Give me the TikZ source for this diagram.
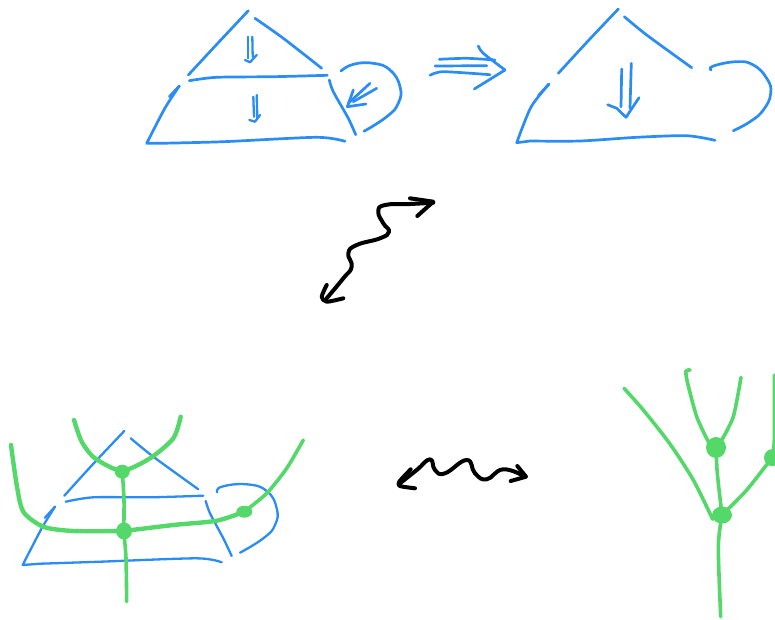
\documentclass[tikz,border=0pt]{standalone}
\usetikzlibrary{shapes.geometric}
\definecolor{skblue}{HTML}{2A8CF5}
\definecolor{skgreen}{HTML}{55D86A}
\tikzset{
 bl/.style={draw=skblue,line width=2.7pt,line cap=round,line join=round},
 blthin/.style={draw=skblue,line width=2.3pt,line cap=round,line join=round},
 gr/.style={draw=skgreen,line width=4.4pt,line cap=round,line join=round},
 grthin/.style={draw=skgreen,line width=3.6pt,line cap=round,line join=round},
 bk/.style={draw=black,line width=4pt,line cap=round,line join=round},
 dot/.style={ellipse,fill=skgreen,inner sep=0pt},
}
\newcommand{\sk}[2]{\draw[#1] plot[smooth,tension=0.45] coordinates {#2};}
\newcommand{\skr}[2]{\draw[#1] plot[smooth,tension=0.8] coordinates {#2};}
\begin{document}
\begin{tikzpicture}[x=1pt,y=-1pt]
\useasboundingbox (0,0) rectangle (775,619);
% --- top left
\sk{bl}{(248.3,10.7) (218,43) (188.3,75)}
\sk{bl}{(255,18.3) (283.3,38.3) (321.7,68.3)}
\sk{bl}{(189.3,80.7) (216.7,77.3) (273,76.7) (327.3,75.3)}
\sk{bl}{(169.3,96.7) (179.3,86)}
\draw[bl] plot[smooth,tension=0.45] coordinates {(179.3,86) (165,108) (146.7,143.3)} -- (160,143.3) plot[smooth,tension=0.45] coordinates {(160,143.3) (223.3,141.7) (316.7,137.3) (345,141.3)};
\sk{bl}{(329.3,80) (333.3,91.7) (348.3,118.3) (355.7,134.7)}
\skr{bl}{(341,71) (353.3,64.3) (373.3,63.3) (390,70) (400,86.7) (398.3,103.3) (386.7,116.7) (364,131.3)}
\sk{bl}{(370,83.3) (348.3,103.3)}
\sk{bl}{(376.7,88.3) (353.3,101.7)}
\draw[bl] (353.3,90) -- (347.3,106.7) -- (366,104);
\sk{blthin}{(248.3,36.7) (248.3,58.3)}
\sk{blthin}{(252.3,36.7) (252.7,56.7)}
\draw[blthin] (245,60) -- (250,62.3) -- (256.7,55);
\sk{blthin}{(256.7,95) (257.3,118.3)}
\sk{blthin}{(253.3,96.7) (254,116.7)}
\draw[blthin] (249.3,120) -- (255,121.7) -- (260,115);
% --- implication arrow
\sk{bl}{(439.3,59.3) (466.7,58.3) (495,60)}
\sk{bl}{(435,66) (486.7,65.7)}
\sk{bl}{(430,75.3) (443.3,71.7) (490,74.7)}
\sk{bl}{(478.3,46) (483.3,53.3) (505,70)}
\draw[bl] (505,70) -- (474.3,89);
% --- top right
\sk{bl}{(618.3,9) (588,41) (558.3,73.3)}
\sk{bl}{(624.3,16.7) (646.7,35) (691.7,67.7)}
\sk{bl}{(538.3,95.7) (549,84)}
\draw[bl] plot[smooth,tension=0.45] coordinates {(549,84) (531,107) (516.7,142.7)} -- (530,141) plot[smooth,tension=0.45] coordinates {(530,141) (580,141) (636.7,137.3) (686.7,135.7) (715,140.3)};
\skr{bl}{(711,70) (713.3,66) (736.7,61.7) (753.3,65) (766.7,78.3) (770.7,93.3) (763.3,110) (750,121.7) (733.3,130.7)}
\sk{bl}{(621.7,69) (621,106.7)}
\sk{bl}{(631.3,63.3) (630,108.3)}
\draw[bl] (607.7,104.7) -- (616.7,108.3) -- (626,117.3) -- (639,97.7);
% --- squiggle 1
\skr{bk}{(433.3,202.7) (410,204) (385,205) (378.3,211.7) (383.3,223.3) (389,231.7) (380,238.3) (356.7,245) (348.3,253.3) (351.7,266.7) (343.3,278.3) (326.7,298.3)}
\draw[bk] (410,198.3) -- (433.3,201.7) -- (417.3,216);
\sk{bk}{(326.7,285) (321.7,296.7) (326.7,301.7) (343.3,298.3)}
% --- squiggle 2
\skr{bk}{(400,483.3) (416.7,470) (430,459.3) (435,470) (445,473.3) (466.7,460) (475,473.3) (486.7,479.3) (503.3,469.3) (525,476.7)}
\sk{bk}{(410.7,469.3) (399.3,481.7) (400,486) (415,488.3)}
\draw[bk] (517.3,466) -- (526,476.7) -- (510.7,481);
% --- bottom left, blue
\sk{blthin}{(124.3,431) (94,463) (64.3,495.7)}
\sk{blthin}{(130.7,438.3) (153.3,456.7) (198.3,489.3)}
\sk{blthin}{(65.7,501.7) (93.3,497.3) (150,497.3) (203.3,495.7)}
\sk{blthin}{(45,517.7) (55,506.7)}
\draw[blthin] plot[smooth,tension=0.45] coordinates {(55,506.7) (41.7,528.3) (22.7,565)} -- (40,563.7) plot[smooth,tension=0.45] coordinates {(40,563.7) (100,561.7) (196.7,558.3) (221.7,562.3)};
\sk{blthin}{(205.7,501) (210,513.3) (223.3,538.3) (231.7,556)}
\skr{blthin}{(217.3,492.3) (221.7,486.7) (246.7,484.3) (266.7,491) (276.7,508.3) (275,525) (263.3,538.3) (240,552.7)}
% --- bottom left, green
\node[dot,minimum width=15pt,minimum height=14pt] (a1) at (122.3,471.7) {};
\node[dot,minimum width=16pt,minimum height=17pt] (a2) at (124,531) {};
\node[dot,minimum width=16pt,minimum height=12pt] (a3) at (244.3,511.7) {};
\sk{gr}{(74,420) (81.7,441.7) (95,458.3) (121.7,470.7) (150,458.3) (173.3,438.3) (180.7,416.7)}
\sk{grthin}{(a1.center) (124,500) (a2.center) (126,558.3) (126.7,601.7)}
\sk{gr}{(11,445) (16.7,485) (23.3,511.7) (43.3,526.7) (73.3,531) (a2.center)}
\sk{gr}{(a2.center) (173.3,525) (216.7,520.7) (a3.center)}
\sk{grthin}{(a3.center) (266.7,493.3) (286.7,468.3) (303.3,440)}
% --- bottom right
\node[dot,minimum width=20pt,minimum height=21pt] (b1) at (716,447.5) {};
\node[dot,minimum width=20pt,minimum height=17pt] (b2) at (722,515) {};
\node[dot,minimum width=16pt,minimum height=17pt] (b3) at (772,457.7) {};
\sk{grthin}{(624,388.3) (643.3,410) (670,444) (693.3,480) (712.7,519.3)}
\sk{grthin}{(690,370) (686,371) (687.3,381.7) (696.7,416.7) (708.3,441.7)}
\sk{grthin}{(721.7,440) (733.3,416.7) (741,377.3)}
\sk{grthin}{(b1.center) (717.3,473.3) (b2.center)}
\sk{grthin}{(b2.center) (718.3,546.7) (720.7,616.7)}
\sk{grthin}{(b2.center) (746.7,490) (b3.center)}
\sk{grthin}{(b3.center) (774.3,440) (774.3,375)}
\end{tikzpicture}
\end{document}
